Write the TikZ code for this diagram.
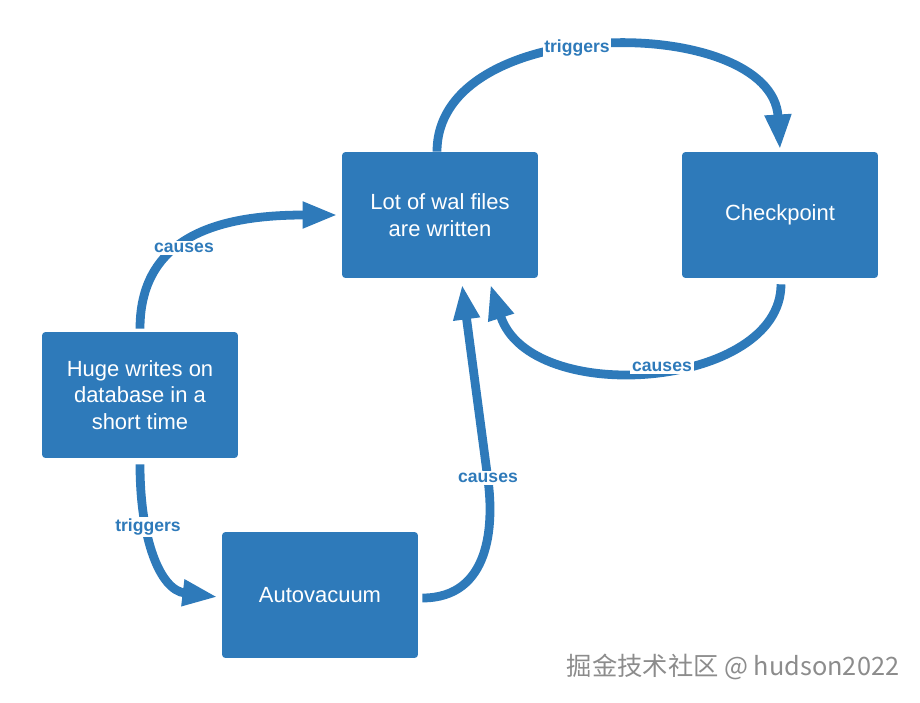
\documentclass[tikz,border=0pt]{standalone}
\usepackage{fontspec}
\setmainfont{Liberation Sans}
\newfontfamily\cjk{Noto Sans CJK SC}
\usepackage{xcolor}
\usepackage{tikz}
\usetikzlibrary{positioning, arrows.meta, calc}
\definecolor{walblue}{RGB}{46,122,186}
\definecolor{markgray}{RGB}{140,140,140}

\begin{document}
\begin{tikzpicture}[x=0.02cm, y=-0.02cm,
    box/.style={draw=none, fill=walblue, text=white, rounded corners=2pt, minimum width=3.92cm, minimum height=2.52cm, align=center, font=\fontsize{12.5}{15}\selectfont},
    flow/.style={draw=walblue, line width=5pt, -{Triangle[length=20pt,width=14pt]}},
    lbl/.style={fill=white, text=walblue, inner sep=1pt, font=\bfseries\fontsize{10}{12}\selectfont}]
    \useasboundingbox (0,0) rectangle (920,703);
    \node[box] (wal) at (440,215) {Lot of wal files\\are written};
    \node[box] (ckpt) at (780,215) {Checkpoint};
    \node[box] (huge) at (140,395) {Huge writes on\\database in a\\short time};
    \node[box] (auto) at (320,595) {Autovacuum};
    \coordinate (bend) at (488,480);
    \draw[flow] ($(wal.north)+(-3,0)$) .. controls +(0,-140) and +(-8,-136) .. ($(ckpt.north)+(0,-2)$);
    \draw[flow] ($(ckpt.south)+(1,6)$) .. controls +(0,104) and +(40,124) .. ($(wal.south east)+(-48,6)$);
    \draw[flow] ($(huge.north)+(0,-3)$) .. controls +(0,-98) and +(-108,0) .. ($(wal.west)+(-4,0)$);
    \draw[flow] ($(huge.south)+(0,6)$) .. controls +(0,74) and +(-58,-7) .. ($(auto.west)+(-4,2)$);
    \draw[flow] ($(auto.east)+(4,3)$) .. controls +(68,0) and +(6,45) .. (bend) -- ($(wal.south)+(22,6)$);
    \node[lbl] (trig1) at (577,48) {triggers};
    \node[lbl] (caus1) at (662,367) {causes};
    \node[lbl] (caus2) at (184,248) {causes};
    \node[lbl] (trig2) at (148,527) {triggers};
    \node[lbl] (caus3) at (488,478) {causes};
    \node[text=markgray, font=\cjk\fontsize{14.4}{16}\selectfont] (mark) at (733,667) {掘金技术社区 @ hudson2022};
\end{tikzpicture}
\end{document}
